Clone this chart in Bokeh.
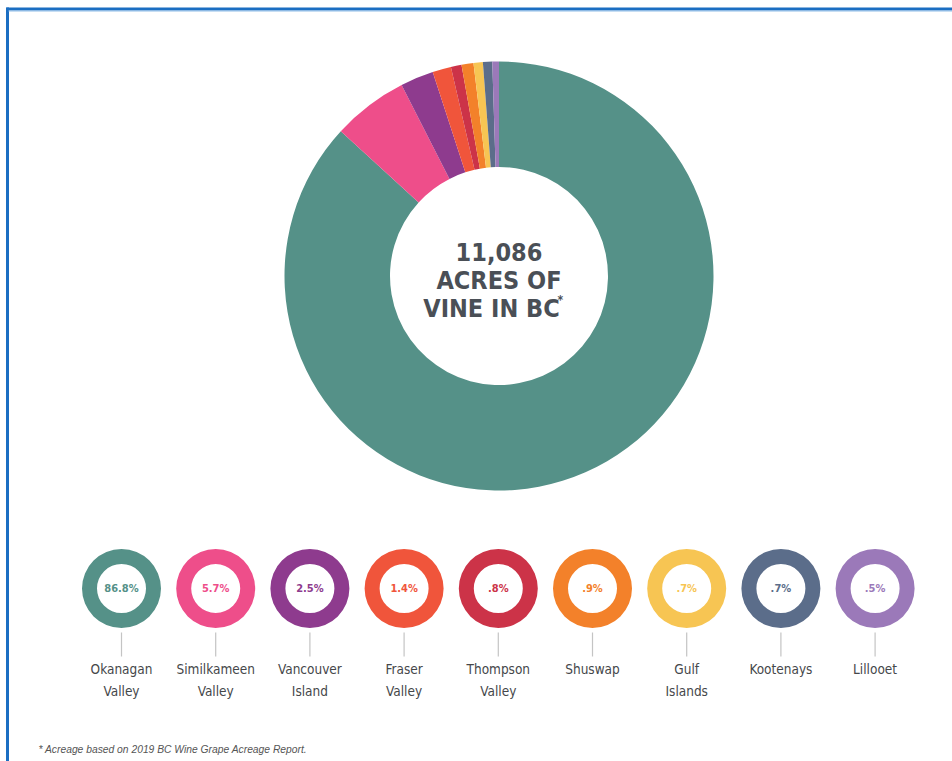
from bokeh.plotting import figure
from bokeh.models import Range1d, ColumnDataSource
from bokeh.core.properties import value
from bokeh.embed import file_html
from bokeh.resources import INLINE
import math

# ---- data ----
regions = ["Okanagan Valley", "Similkameen Valley", "Vancouver Island", "Fraser Valley",
           "Thompson Valley", "Shuswap", "Gulf Islands", "Kootenays", "Lillooet"]
name_line1 = ["Okanagan", "Similkameen", "Vancouver", "Fraser", "Thompson", "Shuswap", "Gulf", "Kootenays", "Lillooet"]
name_line2 = ["Valley", "Valley", "Island", "Valley", "Valley", "", "Islands", "", ""]
shares = [86.8, 5.7, 2.5, 1.4, 0.8, 0.9, 0.7, 0.7, 0.5]
share_labels = ["86.8%", "5.7%", "2.5%", "1.4%", ".8%", ".9%", ".7%", ".7%", ".5%"]
colors = ["#559188", "#ee4e8a", "#8e3b8e", "#f0553b", "#cc3348", "#f3812a", "#f7c553", "#5b6d8a", "#9b79b9"]
center_lines = ["11,086", "ACRES OF", "VINE IN BC"]
footnote = "* Acreage based on 2019 BC Wine Grape Acreage Report."

W, H = 952, 761
def Y(py):
    return H - py

p = figure(width=W, height=H, x_range=Range1d(0, W), y_range=Range1d(0, H),
           output_backend="svg", toolbar_location=None, min_border=0)
p.axis.visible = False
p.grid.visible = False
p.outline_line_color = None
p.background_fill_color = "white"
p.border_fill_color = "white"

# ---- main donut ----
tot = sum(shares)
starts, ends = [], []
cum = 0.0
for s in shares:
    a0 = math.pi / 2 - cum / tot * 2 * math.pi
    cum += s
    a1 = math.pi / 2 - cum / tot * 2 * math.pi
    starts.append(a1)
    ends.append(a0)
src = ColumnDataSource(dict(start=starts, end=ends, color=colors, region=regions, share=shares))
cx, cy = 498.5, 275.5
p.annular_wedge(x=cx, y=Y(cy), inner_radius=109, outer_radius=214.5,
                start_angle="start", end_angle="end", color="color", source=src,
                line_color=None)

# center text
cfont = value("'DejaVu Sans Condensed', 'Roboto Condensed', Roboto, sans-serif")
ys = [251, 280, 308]
xs = [cx, cx, 491]
for t, xx, yy in zip(center_lines, xs, ys):
    p.text(x=[xx], y=[Y(yy)], text=[t], text_font=cfont, text_font_style="bold",
           text_font_size="25px", text_color="#4a4f56", text_align="center", text_baseline="middle")
p.text(x=[557], y=[Y(299)], text=["*"], text_font=cfont, text_font_style="bold",
       text_font_size="12px", text_color="#4a4f56", text_align="left", text_baseline="middle")

# ---- small donuts ----
x0, dx, sy = 121, 94.2, 588
sx = [x0 + i * dx for i in range(len(regions))]
ssrc = ColumnDataSource(dict(x=sx, y=[Y(sy)] * len(sx), color=colors, lab=share_labels,
                             n1=name_line1, n2=name_line2,
                             ya=[Y(632)] * len(sx), yb=[Y(656)] * len(sx)))
p.annulus(x="x", y="y", inner_radius=24.5, outer_radius=39.5, fill_color="color",
          line_color=None, source=ssrc)
p.text(x="x", y="y", text="lab", text_color="color", text_font=cfont, text_font_style="bold",
       text_font_size="11px", text_align="center", text_baseline="middle", source=ssrc)
p.segment(x0="x", y0="ya", x1="x", y1="yb", line_color="#c4c4c4", line_width=1.2, source=ssrc)
p.text(x="x", y=Y(668), text="n1", text_color="#45474a", text_font=cfont,
       text_font_size="13.5px", text_align="center", text_baseline="middle", source=ssrc)
p.text(x="x", y=Y(690), text="n2", text_color="#45474a", text_font=cfont,
       text_font_size="13.5px", text_align="center", text_baseline="middle", source=ssrc)

# footnote
p.text(x=[38], y=[Y(749)], text=[footnote], text_font=value("Liberation Sans"),
       text_font_style="italic", text_font_size="10.3px", text_color="#555555",
       text_align="left", text_baseline="middle")

# blue frame
p.line(x=[6, W + 5], y=[Y(8.5), Y(8.5)], line_color="#1b6ec2", line_width=3)
p.line(x=[7, 7], y=[Y(7), -5], line_color="#1b6ec2", line_width=3)
p.line(x=[8, W + 5], y=[Y(10.5), Y(10.5)], line_color="#8fbde8", line_width=1)

open("out.html", "w").write(file_html(p, INLINE))
